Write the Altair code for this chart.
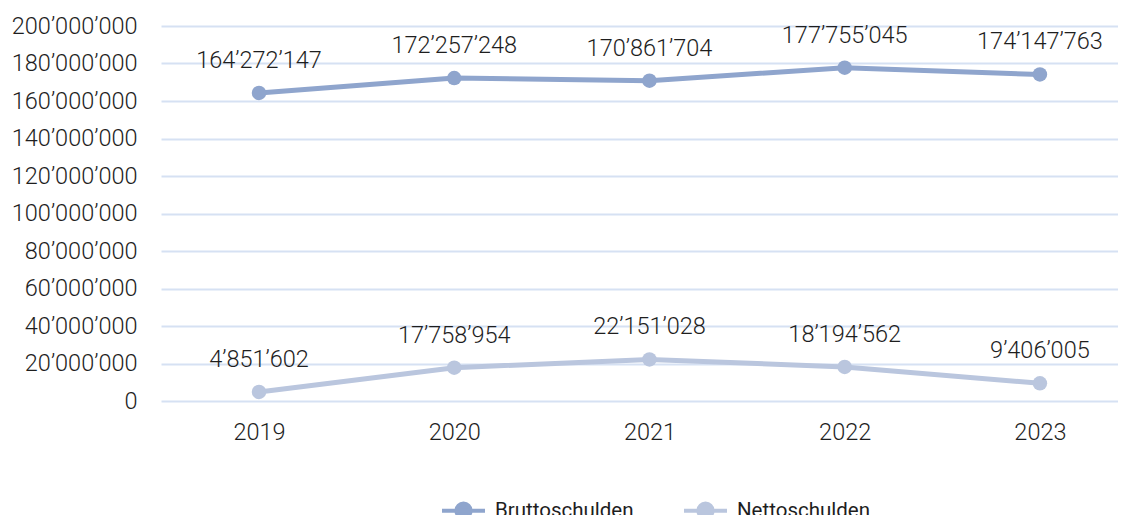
import altair as alt
import pandas as pd

years = [2019, 2020, 2021, 2022, 2023]
brutto = [164272147, 172257248, 170861704, 177755045, 174147763]
netto = [4851602, 17758954, 22151028, 18194562, 9406005]
series = ["Bruttoschulden", "Nettoschulden"]
colors = ["#8FA5CD", "#BAC6DE"]
y_ticks = [0, 20000000, 40000000, 60000000, 80000000, 100000000,
           120000000, 140000000, 160000000, 180000000, 200000000]

df = pd.DataFrame({
    "Jahr": years * 2,
    "Wert": brutto + netto,
    "Serie": [series[0]] * len(years) + [series[1]] * len(years),
})

FONT = "Roboto"
TXT = "#1e1e1e"
FS = 23.5

x = alt.X("Jahr:Q",
          scale=alt.Scale(domain=[2018.498, 2023.4], nice=False, zero=False),
          axis=alt.Axis(values=years, format="d", title=None, grid=False,
                        domain=False, ticks=False, labelPadding=19,
                        labelFontSize=FS, labelFont=FONT, labelFontWeight=300,
                        labelColor=TXT))
y = alt.Y("Wert:Q",
          scale=alt.Scale(domain=[0, 200000000], nice=False),
          axis=alt.Axis(values=y_ticks, format=",d", title=None, domain=False,
                        ticks=False, labelPadding=24, gridColor="#D6E1F3",
                        gridWidth=2, labelFontSize=FS, labelFont=FONT,
                        labelFontWeight=300, labelColor=TXT))
color = alt.Color("Serie:N",
                  scale=alt.Scale(domain=series, range=colors),
                  legend=alt.Legend(
                      title=None, orient="none", legendX=279, legendY=461,
                      direction="horizontal", columnPadding=42,
                      symbolType="M-1,0L1,0M-0.33,0A0.33,0.33,0,1,0,0.33,0A0.33,0.33,0,1,0,-0.33,0Z",
                      symbolSize=1849, symbolStrokeWidth=4, symbolOpacity=1,
                      labelFontSize=20.5, labelFont=FONT, labelColor=TXT,
                      labelOffset=8))

base = alt.Chart(df)
line = base.mark_line(strokeWidth=5).encode(x=x, y=y, color=color)
pts = base.mark_point(filled=True, size=210, opacity=1).encode(x=x, y=y, color=color)
txt = base.mark_text(dy=-32, fontSize=FS, font=FONT, fontWeight=300, color=TXT,
                     baseline="middle").encode(
    x=x, y=y, text=alt.Text("Wert:Q", format=",d"))

chart = alt.layer(line, pts, txt).properties(
    width=957, height=375,
    autosize=alt.AutoSizeParams(type="none"),
    padding={"left": 153, "top": 18, "right": 0, "bottom": 114},
).configure(
    locale={"number": {"decimal": ".", "thousands": "\u2019", "grouping": [3],
                       "currency": ["", ""]}}
).configure_view(stroke=None)

chart.save("out.html", embed_options={"renderer": "svg", "actions": False})
